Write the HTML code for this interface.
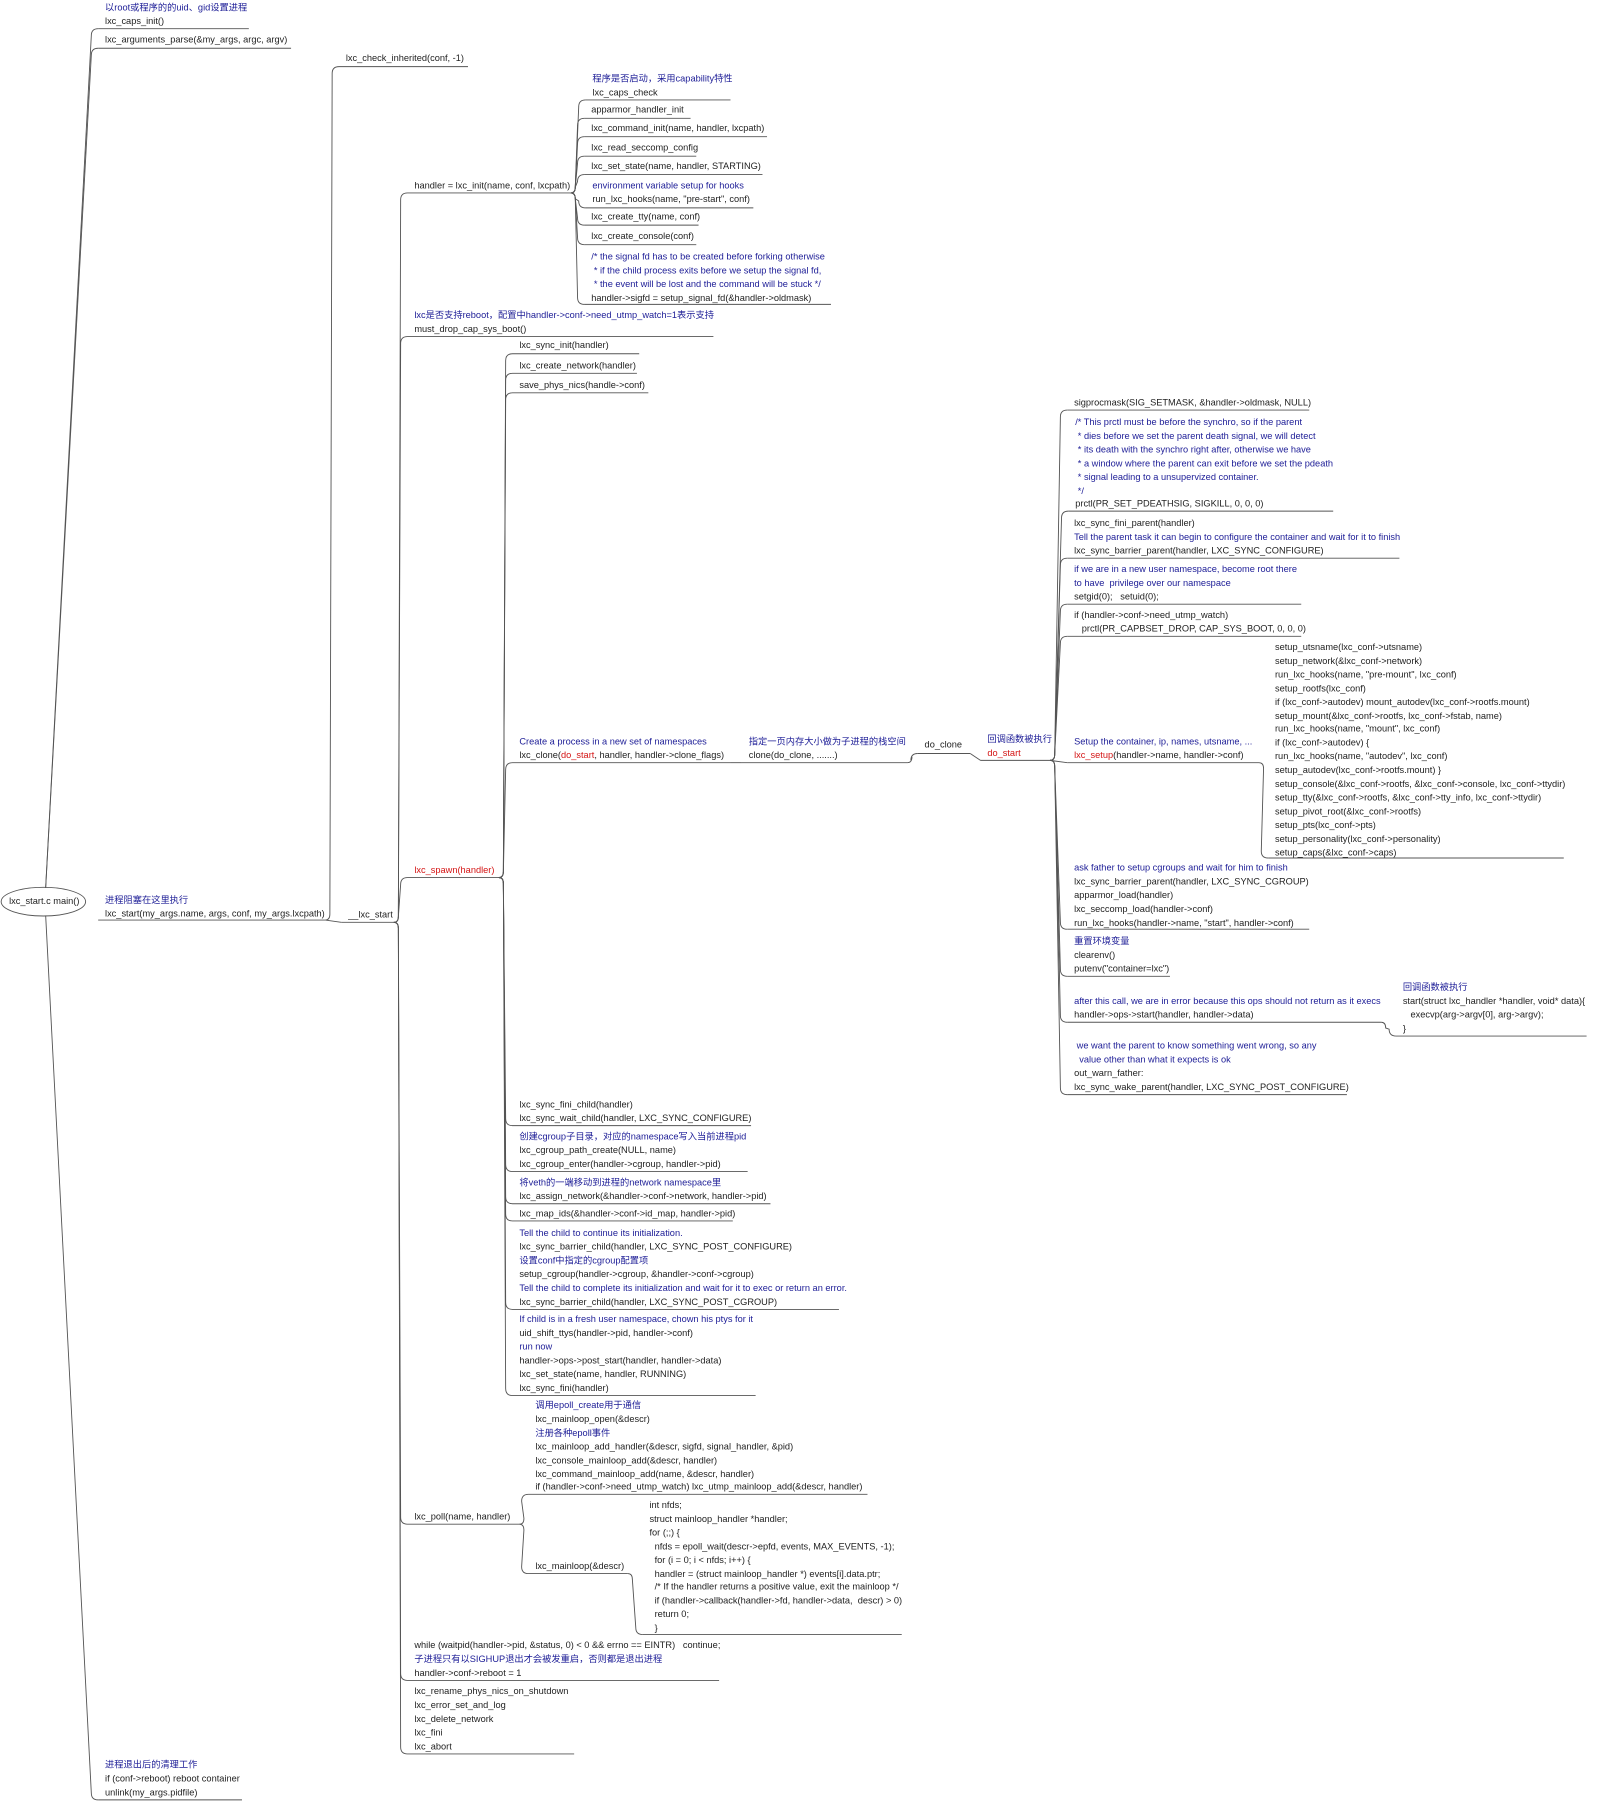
<!DOCTYPE html>
<html><head><meta charset="utf-8">
<style>
html,body{margin:0;padding:0;background:#fff;}
body{width:1598px;height:1801px;overflow:hidden;position:relative;}
#w{position:absolute;left:0;top:0;width:1400px;height:1568px;transform:scale(1.14143,1.1486);transform-origin:0 0;}
#w div.t{position:absolute;white-space:pre;font-family:"Liberation Sans","Noto Sans CJK SC",sans-serif;font-size:8.1px;line-height:12px;color:#222;}
#w div.t.b{color:#1c1c96;}
#w div.t.r, #w div.t span.r{color:#d41414;}
svg{position:absolute;left:0;top:0;}
</style></head><body>
<div id="w">
<svg id="s" width="1400" height="1578" viewBox="0 0 1400 1578"></svg>
</div>
<script>
var W=document.getElementById('w'),S=document.getElementById('s');
function esc(s){return s.replace(/&/g,'&amp;').replace(/</g,'&lt;').replace(/>/g,'&gt;');}
function line(d){var p=document.createElementNS('http://www.w3.org/2000/svg','path');p.setAttribute('d',d);p.setAttribute('fill','none');p.setAttribute('stroke','#555');p.setAttribute('stroke-width','0.8');S.appendChild(p);}
function txt(x,y,s){var d=document.createElement('div');d.className='t';d.style.left=x+'px';d.style.top=(y-6)+'px';
 var cls='';if(s.charAt(0)=='~'){cls='b';s=s.slice(1);}else if(s.charAt(0)=='!'){cls='r';s=s.slice(1);}
 var h=esc(s).replace(/\{r\}/g,'<span class="r">').replace(/\{\/r\}/g,'</span>');
 d.innerHTML=h;if(cls)d.classList.add(cls);W.appendChild(d);}
var N={};
function n(id,par,x,y0,uy,ex,lines){
 N[id]={x:x,uy:uy,ex:ex};
 for(var i=0;i<lines.length;i++)txt(x,y0+i*11.9,lines[i]);
 var sx=x-6;line('M'+sx+','+uy+' L'+ex+','+uy);
 if(par){var p=N[par];var px=p.ex,py=p.uy;conn(px,py,sx,uy);}
}
function conn(px,py,cx,cy){
 var dy=cy-py;
 if(Math.abs(dy)<7){line('M'+px+','+py+' L'+cx+','+cy);return;}
 var s=dy>0?1:-1;var m=cx-6;
 line('M'+px+','+py+' Q'+(px+4)+','+py+' '+(px+4)+','+(py+s*5)+' L'+m+','+(cy-s*6)+' Q'+m+','+cy+' '+cx+','+cy);
}
(function(){var e=document.createElementNS('http://www.w3.org/2000/svg','ellipse');e.setAttribute('cx',38);e.setAttribute('cy',785);e.setAttribute('rx',37);e.setAttribute('ry',12.5);e.setAttribute('fill','#fff');e.setAttribute('stroke','#555');e.setAttribute('stroke-width','0.8');S.appendChild(e);
txt(8,785,'lxc_start.c main()');})();
function rootc(cx,cy){var up=cy<785;var sy=up?773:797;var s=up?-1:1;
 if(Math.abs(cy-785)<30){line('M75,786 Q82,801 '+cx+','+cy);return;}
 line('M40,'+sy+' L'+(cx-6)+','+(cy-s*6)+' Q'+(cx-6)+','+cy+' '+cx+','+cy);}
n('A1',null,92,7,25,218,['~以root或程序的的uid、gid设置进程','lxc_caps_init()']);rootc(86,25);
n('A2',null,92,35,42,255,['lxc_arguments_parse(&my_args, argc, argv)']);rootc(86,42);
n('A3',null,92,784,801,285,['~进程阻塞在这里执行','lxc_start(my_args.name, args, conf, my_args.lxcpath)']);
n('A4',null,92,1537,1567,212,['~进程退出后的清理工作','if (conf->reboot) reboot container','unlink(my_args.pidfile)']);rootc(86,1567);
n('B1','A3',303,51,58,410,['lxc_check_inherited(conf, -1)']);
n('B2','A3',305,797,803,345,['__lxc_start']);
n('C1','B2',363,162,168,500,['handler = lxc_init(name, conf, lxcpath)']);
n('C2','B2',363,275,293,625,['~lxc是否支持reboot，配置中handler->conf->need_utmp_watch=1表示支持','must_drop_cap_sys_boot()']);
n('C3','B2',363,758,764,437,['!lxc_spawn(handler)']);
n('C4','B2',363,1321,1327,455,['lxc_poll(name, handler)']);
n('C5','B2',363,1433,1463,630,['while (waitpid(handler->pid, &status, 0) < 0 && errno == EINTR)   continue;','~子进程只有以SIGHUP退出才会被发重启，否则都是退出进程','handler->conf->reboot = 1']);
n('C6','B2',363,1473,1527,503,['lxc_rename_phys_nics_on_shutdown','lxc_error_set_and_log','lxc_delete_network','lxc_fini','lxc_abort']);
n('D1','C1',519,69,87,640,['~程序是否启动，采用capability特性','lxc_caps_check']);
n('D2','C1',518,96,103,605,['apparmor_handler_init']);
n('D3','C1',518,112,119,672,['lxc_command_init(name, handler, lxcpath)']);
n('D4','C1',518,129,136,610,['lxc_read_seccomp_config']);
n('D5','C1',518,145,152,668,['lxc_set_state(name, handler, STARTING)']);
n('D6','C1',519,162,181,660,['~environment variable setup for hooks','run_lxc_hooks(name, "pre-start", conf)']);
n('D7','C1',518,189,196,612,['lxc_create_tty(name, conf)']);
n('D8','C1',518,206,213,610,['lxc_create_console(conf)']);
n('D9','C1',518,224,265,728,['~/* the signal fd has to be created before forking otherwise','~ * if the child process exits before we setup the signal fd,','~ * the event will be lost and the command will be stuck */','handler->sigfd = setup_signal_fd(&handler->oldmask)']);
n('E1','C3',455,301,308,560,['lxc_sync_init(handler)']);
n('E2','C3',455,319,325,558,['lxc_create_network(handler)']);
n('E3','C3',455,336,342,568,['save_phys_nics(handle->conf)']);
n('E4','C3',455,646,664,640,['~Create a process in a new set of namespaces','lxc_clone({r}do_start{/r}, handler, handler->clone_flags)']);
n('E5','C3',455,962,980,658,['lxc_sync_fini_child(handler)','lxc_sync_wait_child(handler, LXC_SYNC_CONFIGURE)']);
n('E6','C3',455,990,1020,655,['~创建cgroup子目录，对应的namespace写入当前进程pid','lxc_cgroup_path_create(NULL, name)','lxc_cgroup_enter(handler->cgroup, handler->pid)']);
n('E7','C3',455,1030,1048,675,['~将veth的一端移动到进程的network namespace里','lxc_assign_network(&handler->conf->network, handler->pid)']);
n('E8','C3',455,1057,1063,642,['lxc_map_ids(&handler->conf->id_map, handler->pid)']);
n('E9','C3',455,1074,1140,735,['~Tell the child to continue its initialization.','lxc_sync_barrier_child(handler, LXC_SYNC_POST_CONFIGURE)','~设置conf中指定的cgroup配置项','setup_cgroup(handler->cgroup, &handler->conf->cgroup)','~Tell the child to complete its initialization and wait for it to exec or return an error.','lxc_sync_barrier_child(handler, LXC_SYNC_POST_CGROUP)']);
n('E10','C3',455,1149,1215,662,['~If child is in a fresh user namespace, chown his ptys for it','uid_shift_ttys(handler->pid, handler->conf)','~run now','handler->ops->post_start(handler, handler->data)','lxc_set_state(name, handler, RUNNING)','lxc_sync_fini(handler)']);
n('F1','E4',656,646,664,795,['~指定一页内存大小做为子进程的栈空间','clone(do_clone, .......)']);
n('G1','F1',810,649,656,850,['do_clone']);
n('H1','G1',865,644,662,920,['~回调函数被执行','!do_start']);
n('I1','H1',941,351,357,1147,['sigprocmask(SIG_SETMASK, &handler->oldmask, NULL)']);
n('I2','H1',942,368,445,1168,['~/* This prctl must be before the synchro, so if the parent','~ * dies before we set the parent death signal, we will detect','~ * its death with the synchro right after, otherwise we have','~ * a window where the parent can exit before we set the pdeath','~ * signal leading to a unsupervized container.','~ */','prctl(PR_SET_PDEATHSIG, SIGKILL, 0, 0, 0)']);
n('I3','H1',941,456,486,1226,['lxc_sync_fini_parent(handler)','~Tell the parent task it can begin to configure the container and wait for it to finish','lxc_sync_barrier_parent(handler, LXC_SYNC_CONFIGURE)']);
n('I4','H1',941,496,526,1140,['~if we are in a new user namespace, become root there','~to have  privilege over our namespace','setgid(0);   setuid(0);']);
n('I5','H1',941,536,554,1140,['if (handler->conf->need_utmp_watch)','   prctl(PR_CAPBSET_DROP, CAP_SYS_BOOT, 0, 0, 0)']);
n('I6','H1',941,646,664,1103,['~Setup the container, ip, names, utsname, ...','{r}lxc_setup{/r}(handler->name, handler->conf)']);
n('I7','H1',941,756,809,1147,['~ask father to setup cgroups and wait for him to finish','lxc_sync_barrier_parent(handler, LXC_SYNC_CGROUP)','apparmor_load(handler)','lxc_seccomp_load(handler->conf)','run_lxc_hooks(handler->name, "start", handler->conf)']);
n('I8','H1',941,820,850,1025,['~重置环境变量','clearenv()','putenv("container=lxc")']);
n('I9','H1',941,872,890,1210,['~after this call, we are in error because this ops should not return as it execs','handler->ops->start(handler, handler->data)']);
n('I10','H1',941,911,953,1180,['~ we want the parent to know something went wrong, so any','~  value other than what it expects is ok','out_warn_father:','lxc_sync_wake_parent(handler, LXC_SYNC_POST_CONFIGURE)']);
n('J1','I6',1117,564,747,1370,['setup_utsname(lxc_conf->utsname)','setup_network(&lxc_conf->network)','run_lxc_hooks(name, "pre-mount", lxc_conf)','setup_rootfs(lxc_conf)','if (lxc_conf->autodev) mount_autodev(lxc_conf->rootfs.mount)','setup_mount(&lxc_conf->rootfs, lxc_conf->fstab, name)','run_lxc_hooks(name, "mount", lxc_conf)','if (lxc_conf->autodev) {','run_lxc_hooks(name, "autodev", lxc_conf)','setup_autodev(lxc_conf->rootfs.mount) }','setup_console(&lxc_conf->rootfs, &lxc_conf->console, lxc_conf->ttydir)','setup_tty(&lxc_conf->rootfs, &lxc_conf->tty_info, lxc_conf->ttydir)','setup_pivot_root(&lxc_conf->rootfs)','setup_pts(lxc_conf->pts)','setup_personality(lxc_conf->personality)','setup_caps(&lxc_conf->caps)']);
n('K1','I9',1229,860,902,1390,['~回调函数被执行','start(struct lxc_handler *handler, void* data){','   execvp(arg->argv[0], arg->argv);','}']);
n('L1','C4',469,1224,1301,760,['~调用epoll_create用于通信','lxc_mainloop_open(&descr)','~注册各种epoll事件','lxc_mainloop_add_handler(&descr, sigfd, signal_handler, &pid)','lxc_console_mainloop_add(&descr, handler)','lxc_command_mainloop_add(name, &descr, handler)','if (handler->conf->need_utmp_watch) lxc_utmp_mainloop_add(&descr, handler)']);
n('L2','C4',469,1364,1370,550,['lxc_mainloop(&descr)']);
n('M1','L2',569,1311,1423,790,['int nfds;','struct mainloop_handler *handler;','for (;;) {','  nfds = epoll_wait(descr->epfd, events, MAX_EVENTS, -1);','  for (i = 0; i < nfds; i++) {','  handler = (struct mainloop_handler *) events[i].data.ptr;','  /* If the handler returns a positive value, exit the mainloop */','  if (handler->callback(handler->fd, handler->data,  descr) > 0)','  return 0;','  }']);
</script>
</body></html>
